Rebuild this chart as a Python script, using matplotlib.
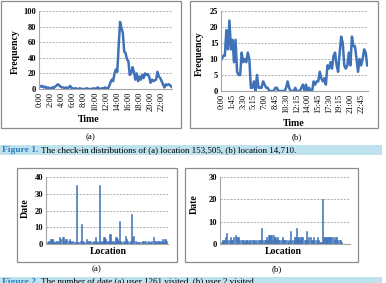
import matplotlib
matplotlib.use("Agg")
import matplotlib.pyplot as plt
from matplotlib.patches import Rectangle
import numpy as np

plt.rcParams['font.family'] = ['Liberation Serif', 'DejaVu Serif']

# check-in counts every 15 minutes (96 slots)
freq_a = [4, 3, 4, 2, 3, 1, 2, 1, 1, 2, 1, 3, 4, 6, 5, 3,
          2, 2, 1, 2, 1, 2, 4, 1, 1, 0, 1, 0, 0, 1, 0, 0,
          0, 0, 1, 0, 0, 0, 0, 1, 0, 1, 2, 0, 0, 1, 0, 2,
          1, 0, 3, 8, 12, 10, 20, 25, 22, 55, 86, 78, 72, 48, 46, 38,
          36, 18, 20, 28, 22, 12, 20, 10, 16, 12, 18, 14, 20, 18, 19, 16,
          8, 12, 10, 11, 12, 22, 16, 14, 10, 6, 2, 6, 5, 6, 5, 3]
freq_b = [10, 11, 11, 19, 13, 22, 13, 16, 9, 16, 6, 5, 5, 12, 9, 10,
          9, 12, 10, 1, 1, 3, 0, 5, 1, 1, 1, 3, 2, 1, 1, 0,
          0, 0, 0, 1, 1, 0, 0, 0, 0, 0, 1, 3, 1, 0, 0, 0,
          1, 0, 0, 0, 1, 2, 0, 2, 0, 1, 0, 0, 3, 2, 3, 3,
          6, 4, 3, 4, 2, 8, 7, 9, 7, 11, 12, 8, 6, 12, 17, 15,
          8, 7, 8, 12, 8, 17, 14, 14, 10, 6, 10, 8, 10, 13, 12, 8]
slots = [f"{(15 * i) // 60}:{(15 * i) % 60:02d}" for i in range(96)]

# number of dates per location
date_a = [1, 2, 3, 3, 3, 2, 1, 2, 2, 1, 4, 3, 4, 4, 2, 3, 3, 2, 3, 2, 1, 2, 1, 1,
          35, 1, 1, 2, 12, 2, 1, 1, 3, 2, 2, 1, 2, 1, 2, 1, 4, 2, 1,
          35, 2, 1, 2, 4, 3, 2, 1, 2, 6, 2, 1, 2, 1, 4, 3, 2,
          14, 2, 1, 2, 1, 5, 3, 2, 1, 2, 18, 4, 5,
          2, 1, 1, 1, 1, 1, 2, 2, 1, 2, 1, 2, 1, 1, 2, 4,
          2, 2, 1, 2, 2, 1, 2, 3, 1, 3, 2]
date_b = [1, 2, 2, 3, 5, 2, 2, 3, 2, 2, 3, 4, 3, 3, 3, 2, 2, 2, 2, 1,
          2, 2, 1, 2, 2, 2, 2, 2, 1, 2, 2, 2, 2, 7, 2, 2, 2, 3, 2, 4,
          4, 4, 2, 4, 3, 2, 3, 2, 2, 2, 3, 2, 2, 2, 2, 1, 2, 6, 2, 2,
          3, 3, 7, 3, 2, 3, 3, 3, 2, 2, 6, 2, 3, 3, 2, 2, 3, 2, 2, 3,
          2, 1, 1, 20, 3, 3, 3, 3, 3, 3, 3, 3, 3, 2, 3, 3, 2, 2, 2, 1]

W, H = 386, 283
fig = plt.figure(figsize=(W / 100, H / 100), dpi=100)


def rect(x0, y0, x1, y1):
    return [x0 / W, 1 - y1 / H, (x1 - x0) / W, (y1 - y0) / H]


def ftext(x, y, s, **kw):
    fig.text(x / W, 1 - y / H, s, **kw)


def frame(x0, y0, x1, y1):
    fig.patches.append(Rectangle((x0 / W, 1 - y1 / H), (x1 - x0) / W, (y1 - y0) / H,
                                 transform=fig.transFigure, fill=False,
                                 edgecolor='#8c8c8c', lw=0.9))


def style(ax, ymax, step):
    ax.set_ylim(0, ymax)
    ax.set_yticks(np.arange(0, ymax + 1, step))
    ax.grid(axis='y', ls=(0, (2.5, 1.5)), color='#a6a6a6', lw=0.6)
    ax.set_axisbelow(True)
    for s in ['top', 'right']:
        ax.spines[s].set_visible(False)
    for s in ['left', 'bottom']:
        ax.spines[s].set_color('#a6a6a6')
        ax.spines[s].set_linewidth(0.8)
    ax.tick_params(length=0, labelsize=6, pad=2)
    for lab in ax.get_yticklabels():
        lab.set_fontweight('bold')


blue = '#3f72b8'
lab_kw = dict(ha='center', va='center', fontsize=7, fontweight='bold')

# top charts
frame(1, 0.5, 181, 128)
frame(190, 0.5, 378, 128)
ax1 = fig.add_axes(rect(39, 11, 172, 89))
ax1.plot(range(96), freq_a, color=blue, lw=1.8)
ax1.set_xlim(-0.5, 95.5)
style(ax1, 100, 20)
ax1.set_xticks(range(0, 96, 8))
ax1.set_xticklabels(slots[::8], rotation=90, fontsize=6)

ax2 = fig.add_axes(rect(221, 11, 368, 91))
ax2.plot(range(96), freq_b, color=blue, lw=1.8)
ax2.set_xlim(-0.5, 95.5)
style(ax2, 25, 5)
ax2.set_xticks(range(0, 96, 7))
ax2.set_xticklabels(slots[::7], rotation=90, fontsize=6)

ftext(15, 52, 'Frequency', rotation=90, **lab_kw)
ftext(89, 120, 'Time', **lab_kw)
ftext(199, 54, 'Frequency', rotation=90, **lab_kw)
ftext(294, 123, 'Time', **lab_kw)
ftext(91, 137, '(a)', ha='center', va='center', fontsize=6.5)
ftext(297, 137, '(b)', ha='center', va='center', fontsize=6.5)

# caption 1
fig.patches.append(Rectangle((0, 1 - 155 / H), 382 / W, 10 / H, transform=fig.transFigure,
                             facecolor='#bfe3ee', edgecolor='none'))
ftext(2, 150, 'Figure 1.', ha='left', va='center', fontsize=6.8, color='#2a7fc1', fontweight='bold')
ftext(41, 150, 'The check-in distributions of (a) location 153,505, (b) location 14,710.',
      ha='left', va='center', fontsize=6.5)

# bottom charts
frame(17, 168, 177, 262)
frame(185, 168, 358, 262)
ax3 = fig.add_axes(rect(46, 177, 168, 244))
ax3.bar(range(len(date_a)), date_a, width=0.9, color=blue, edgecolor=blue, lw=0.4)
ax3.set_xlim(-1.5, len(date_a) + 0.5)
style(ax3, 40, 10)
ax3.set_xticks([])

ax4 = fig.add_axes(rect(220, 177, 350, 244))
ax4.bar(range(len(date_b)), date_b, width=0.9, color=blue, edgecolor=blue, lw=0.4)
ax4.set_xlim(-1.5, len(date_b) + 6)
style(ax4, 30, 10)
ax4.set_xticks([])

ftext(25, 208, 'Date', rotation=90, **lab_kw)
ftext(108, 251, 'Location', **lab_kw)
ftext(194, 204, 'Date', rotation=90, **lab_kw)
ftext(283, 251, 'Location', **lab_kw)
ftext(97, 269, '(a)', ha='center', va='center', fontsize=6.5)
ftext(277, 269, '(b)', ha='center', va='center', fontsize=6.5)

# caption 2 (cut at the bottom of the page)
fig.patches.append(Rectangle((0, 0), 382 / W, 6 / H, transform=fig.transFigure,
                             facecolor='#bfe3ee', edgecolor='none'))
ftext(2, 277.5, 'Figure 2.', ha='left', va='top', fontsize=6.8, color='#2a7fc1', fontweight='bold')
ftext(41, 277.5, 'The number of date (a) user 1261 visited, (b) user 2 visited.',
      ha='left', va='top', fontsize=6.5)

fig.savefig('out.png', dpi=100)
